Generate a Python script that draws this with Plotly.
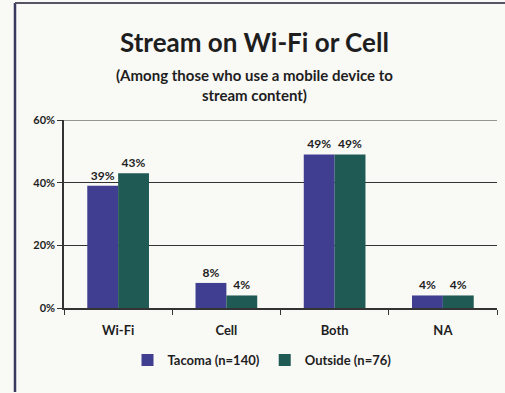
import plotly.graph_objects as go

categories = ["Wi-Fi", "Cell", "Both", "NA"]
tacoma = [39, 8, 49, 4]
outside = [43, 4, 49, 4]
series_names = ["Tacoma (n=140)", "Outside (n=76)"]
y_ticks = [0, 20, 40, 60]
y_tick_labels = ["0%", "20%", "40%", "60%"]

W, H = 505, 393
L, R, T, B = 64, 8, 120, 85
pw, ph = W - L - R, H - T - B


def px_x(x):
    return (x - L) / pw


def px_y(y):
    return (H - B - y) / ph


FONT = "Lato"
BLUE = "#3f3e90"
GREEN = "#1f5a55"
INK = "#1e1e1e"

fig = go.Figure()
for name, vals, col in [(series_names[0], tacoma, BLUE), (series_names[1], outside, GREEN)]:
    fig.add_trace(go.Bar(
        x=categories, y=vals, name=name, marker=dict(color=col, line=dict(width=0)),
        text=[f"{v}%" for v in vals], textposition="outside", cliponaxis=False,
        textfont=dict(family=FONT, size=12, color=INK, weight="bold"),
    ))

fig.update_layout(
    width=W, height=H,
    margin=dict(l=L, r=R, t=T, b=B),
    paper_bgcolor="#f9f9f6", plot_bgcolor="#f9f9f6",
    barmode="group", bargap=0.43, bargroupgap=0,
    font=dict(family=FONT, color=INK),
    showlegend=True,
    legend=dict(orientation="h", x=px_x(262), xanchor="center", y=px_y(360), yanchor="middle",
                font=dict(family=FONT, size=13, color=INK, weight="bold"),
                bgcolor="rgba(0,0,0,0)", itemwidth=30, tracegroupgap=0),
    xaxis=dict(showline=True, linecolor="#333333", linewidth=1.5,
               ticks="outside", tickson="boundaries", ticklen=5, tickcolor="#333333",
               ticklabelstandoff=10,
               tickfont=dict(family=FONT, size=13, color=INK, weight="bold"),
               showgrid=False),
    yaxis=dict(range=[0, 60], tickvals=y_ticks, ticktext=y_tick_labels,
               showline=True, linecolor="#333333", linewidth=1.5,
               ticks="outside", ticklen=5, tickcolor="#333333",
               showgrid=True, gridcolor="#333333", gridwidth=1.2, zeroline=False,
               tickfont=dict(family=FONT, size=11, color=INK, weight="bold")),
)

# top gridline at the upper end of the value axis
fig.add_shape(type="line", xref="paper", yref="y", x0=0, x1=1, y0=y_ticks[-1], y1=y_ticks[-1],
              line=dict(color="#333333", width=1.2))

fig.add_annotation(text="<b>Stream on Wi-Fi or Cell</b>", xref="paper", yref="paper",
                   x=px_x(254), y=px_y(42), xanchor="center", yanchor="middle",
                   showarrow=False, font=dict(family=FONT, size=26, color=INK))
fig.add_annotation(text="<b>(Among those who use a mobile device to<br>stream content)</b>",
                   xref="paper", yref="paper", x=px_x(254), y=px_y(85),
                   xanchor="center", yanchor="middle", showarrow=False,
                   font=dict(family=FONT, size=15, color=INK))

# frame around the figure
fig.add_shape(type="line", xref="paper", yref="paper", x0=px_x(15), x1=px_x(15),
              y0=px_y(3), y1=px_y(392), line=dict(color="#3a3a60", width=2.5))
fig.add_shape(type="line", xref="paper", yref="paper", x0=px_x(15), x1=px_x(505),
              y0=px_y(3), y1=px_y(3), line=dict(color="#555566", width=2))

fig.write_html("out.html")
